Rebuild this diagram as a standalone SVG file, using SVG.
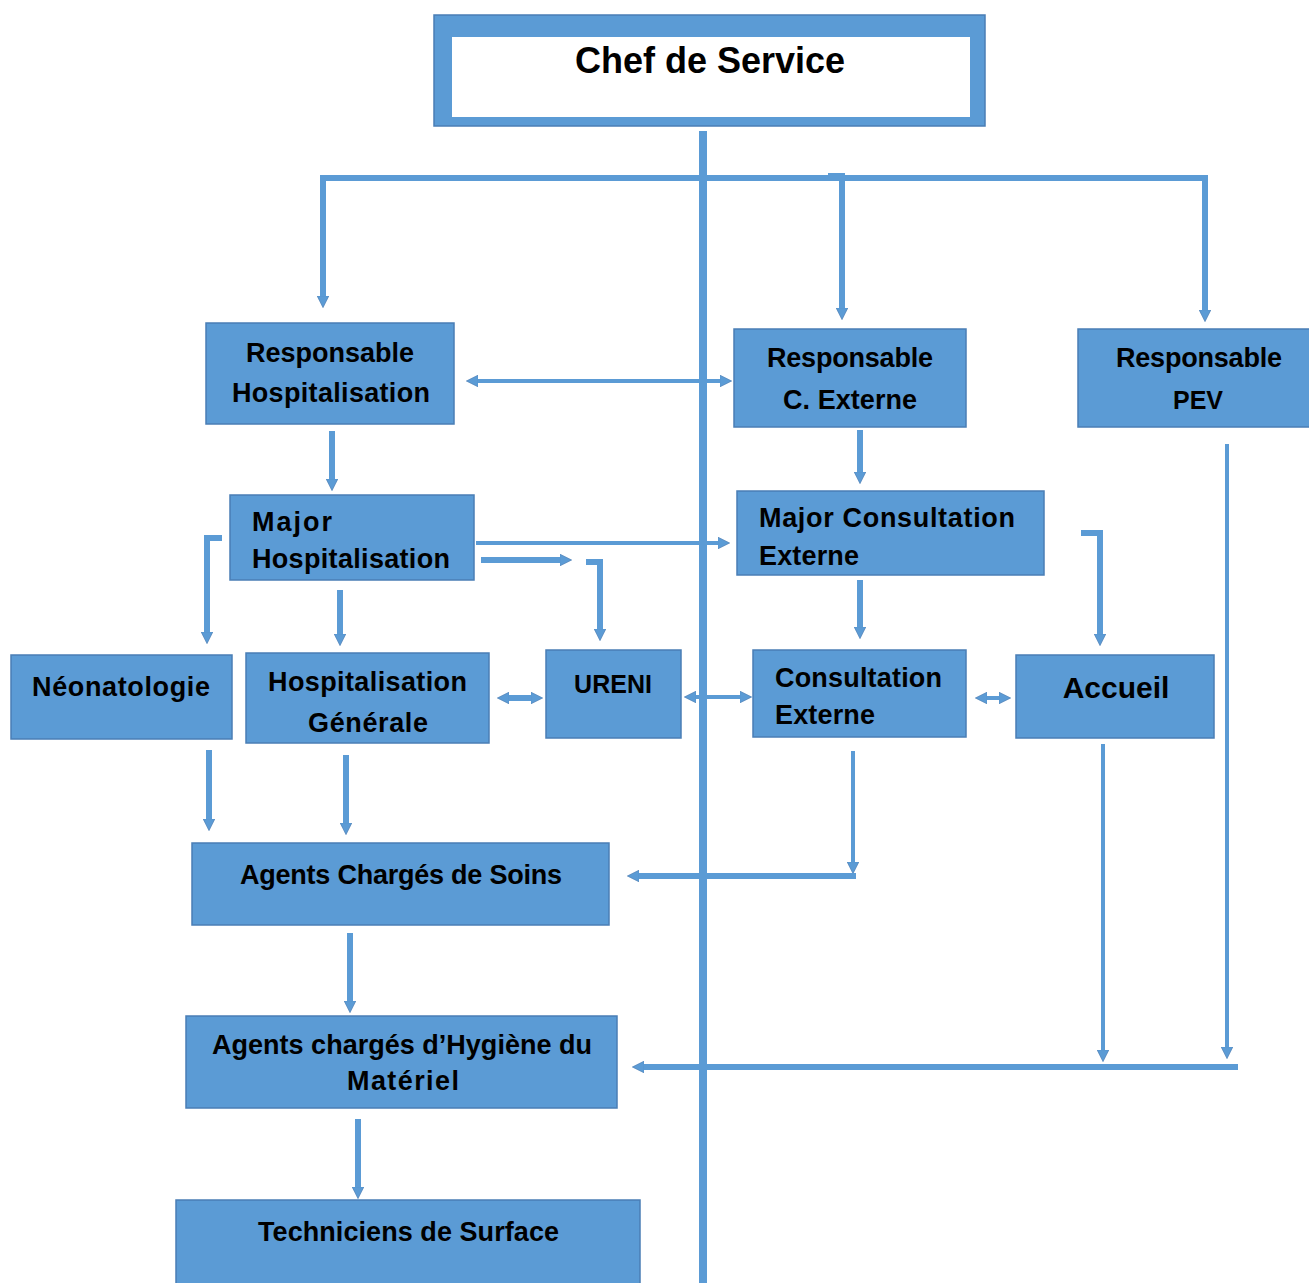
<svg xmlns="http://www.w3.org/2000/svg" width="1309" height="1283" viewBox="0 0 1309 1283">
<style>
.box{fill:#5B9BD5;stroke:#4A7EB5;stroke-width:1.5}
.t{font-family:"Liberation Sans",Arial,sans-serif;font-weight:bold;font-size:27px;fill:#000}
.c{fill:none;stroke:#5B9BD5;stroke-width:6;stroke-linejoin:miter}
.n{stroke-width:4}
.e{marker-end:url(#ah)}
.b{marker-start:url(#ah);marker-end:url(#ah)}
</style>
<defs>
<marker id="ah" viewBox="0 0 10 10" refX="2" refY="5" markerWidth="12" markerHeight="12" markerUnits="userSpaceOnUse" orient="auto-start-reverse">
<path d="M0,0 L10,5 L0,10 z" fill="#5B9BD5" stroke="#4A7EB5" stroke-width="0.6"/>
</marker>
</defs>
<rect width="1309" height="1283" fill="#fff"/>

<g id="connectors">
<line x1="703" y1="131" x2="703" y2="1283" stroke="#5B9BD5" stroke-width="8"/>
<path class="c b" d="M323,298 V178 H1205 V312"/>
<path class="c e" d="M828,176 H842 V310"/>
<path class="c n b" d="M476,381 H722"/>
<path class="c e" d="M332,431 V481"/>
<path class="c e" d="M860,430 V474"/>
<path class="c n e" d="M476,543 H720"/>
<path class="c e" d="M481,560 H562"/>
<path class="c e" d="M586,562 H600 V631"/>
<path class="c e" d="M222,538 H207 V634"/>
<path class="c e" d="M340,590 V636"/>
<path class="c b" d="M507,698 H533"/>
<path class="c n b" d="M694,697 H742"/>
<path class="c e" d="M860,580 V629"/>
<path class="c e" d="M1081,533 H1100 V636"/>
<path class="c n b" d="M985,698 H1001"/>
<path class="c e" d="M209,750 V821"/>
<path class="c e" d="M346,755 V825"/>
<path class="c n e" d="M853,751 V864"/>
<path class="c e" d="M856,876 H637"/>
<path class="c e" d="M350,933 V1003"/>
<path class="c n e" d="M1103,744 V1052"/>
<path class="c n e" d="M1227,444 V1049"/>
<path class="c e" d="M1238,1067 H642"/>
<path class="c e" d="M358,1119 V1189"/>
</g>

<g id="chef">
<rect x="434" y="15" width="551" height="111" fill="#5B9BD5" stroke="#4A7EB5" stroke-width="1.5"/>
<rect x="452" y="37" width="518" height="80" fill="#fff"/>
<text class="t" x="575" y="73" style="font-size:36px" textLength="270">Chef de Service</text>
</g>

<g id="resp-hosp">
<rect class="box" x="206" y="323" width="248" height="101"/>
<text class="t" x="246" y="362" textLength="168">Responsable</text>
<text class="t" x="232" y="402" textLength="198">Hospitalisation</text>
</g>

<g id="resp-cext">
<rect class="box" x="734" y="329" width="232" height="98"/>
<text class="t" x="767" y="367" textLength="166">Responsable</text>
<text class="t" x="783" y="409" textLength="134">C. Externe</text>
</g>

<g id="resp-pev">
<rect class="box" x="1078" y="329" width="235" height="98"/>
<text class="t" x="1116" y="367" textLength="166">Responsable</text>
<text class="t" x="1198" y="409" text-anchor="middle" style="font-size:25px">PEV</text>
</g>

<g id="major-hosp">
<rect class="box" x="230" y="495" width="244" height="85"/>
<text class="t" x="252" y="531" textLength="80">Major</text>
<text class="t" x="252" y="568" textLength="198">Hospitalisation</text>
</g>

<g id="major-cext">
<rect class="box" x="737" y="491" width="307" height="84"/>
<text class="t" x="759" y="527" textLength="256">Major Consultation</text>
<text class="t" x="759" y="565" textLength="100">Externe</text>
</g>

<g id="neonatologie">
<rect class="box" x="11" y="655" width="221" height="84"/>
<text class="t" x="32" y="696" textLength="178">Néonatologie</text>
</g>

<g id="hosp-generale">
<rect class="box" x="246" y="653" width="243" height="90"/>
<text class="t" x="268" y="691" textLength="199">Hospitalisation</text>
<text class="t" x="308" y="732" textLength="120">Générale</text>
</g>

<g id="ureni">
<rect class="box" x="546" y="650" width="135" height="88"/>
<text class="t" x="613" y="693" text-anchor="middle" style="font-size:25px">URENI</text>
</g>

<g id="consultation-externe">
<rect class="box" x="753" y="650" width="213" height="87"/>
<text class="t" x="775" y="687" textLength="167">Consultation</text>
<text class="t" x="775" y="724" textLength="100">Externe</text>
</g>

<g id="accueil">
<rect class="box" x="1016" y="655" width="198" height="83"/>
<text class="t" x="1116" y="698" text-anchor="middle" style="font-size:30px">Accueil</text>
</g>

<g id="agents-soins">
<rect class="box" x="192" y="843" width="417" height="82"/>
<text class="t" x="240" y="884" textLength="322">Agents Chargés de Soins</text>
</g>

<g id="agents-hygiene">
<rect class="box" x="186" y="1016" width="431" height="92"/>
<text class="t" x="212" y="1054" textLength="380">Agents chargés d’Hygiène du</text>
<text class="t" x="347" y="1090" textLength="112">Matériel</text>
</g>

<g id="techniciens">
<rect class="box" x="176" y="1200" width="464" height="90"/>
<text class="t" x="258" y="1241" textLength="301">Techniciens de Surface</text>
</g>
</svg>
